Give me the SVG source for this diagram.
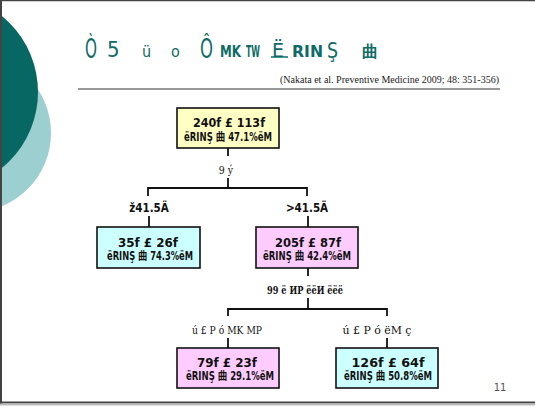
<svg xmlns="http://www.w3.org/2000/svg" width="535" height="409" viewBox="0 0 535 409">
<style>
.title{font-family:"DejaVu Sans Condensed","DejaVu Sans",sans-serif;fill:#0e6b66}
.box{stroke:#111;stroke-width:1.6}
.yel{fill:#ffffc4}
.cyan{fill:#ccffff}
.pink{fill:#ffccff}
.bt{font-family:"DejaVu Sans Condensed","DejaVu Sans","Noto Sans CJK JP",sans-serif;font-weight:bold;font-size:11.5px;fill:#111;text-anchor:middle}
.lbl{font-family:"DejaVu Serif Condensed","DejaVu Serif",serif;font-size:10.5px;fill:#111;text-anchor:middle}
.lblb{font-family:"DejaVu Sans Condensed","DejaVu Sans",sans-serif;font-weight:bold;font-size:11.5px;fill:#111;text-anchor:middle}
.conn{stroke:#111;stroke-width:1.8;fill:none}
</style>
<rect width="535" height="409" fill="#fff"/>
<g id="decor">
<circle cx="-28" cy="133" r="79" fill="#9ccfcf"/>
<circle cx="-60" cy="92" r="98" fill="#076762"/>
</g>
<g id="frame">
<line x1="0" y1="0.5" x2="535" y2="0.5" stroke="#444" stroke-width="1.5"/>
<line x1="1" y1="0" x2="1" y2="404" stroke="#444" stroke-width="2"/>
<line x1="0" y1="402.5" x2="535" y2="402.5" stroke="#444" stroke-width="2"/>
<line x1="0" y1="404.5" x2="535" y2="404.5" stroke="#bbb" stroke-width="2"/>
</g>
<g id="title">
<text class="title" font-size="26" x="85" y="58" textLength="12" lengthAdjust="spacingAndGlyphs">Ò</text>
<text class="title" font-size="22" x="107" y="57">5</text>
<text class="title" font-size="16" x="142" y="57" font-family="DejaVu Serif">ü</text>
<text class="title" font-size="16" x="171" y="57" font-family="DejaVu Serif">o</text>
<text class="title" font-size="26" x="200" y="58" textLength="13" lengthAdjust="spacingAndGlyphs">Ô</text>
<text class="title" font-size="15" x="220" y="57" font-weight="bold" textLength="21" lengthAdjust="spacingAndGlyphs">MK</text>
<text class="title" font-size="15" x="246" y="57" font-weight="bold" textLength="14" lengthAdjust="spacingAndGlyphs">TW</text>
<text class="title" font-size="19" x="272" y="57" textLength="12" lengthAdjust="spacingAndGlyphs">Ë</text>
<line x1="271" y1="57" x2="288" y2="57" stroke="#0e6b66" stroke-width="1.5"/>
<text class="title" font-size="15" x="292" y="57" font-weight="bold" textLength="31" lengthAdjust="spacingAndGlyphs">RIN</text>
<text class="title" font-size="22" x="327" y="58" textLength="11" lengthAdjust="spacingAndGlyphs">Ş</text>
<text class="title" font-size="16" x="362" y="57" font-weight="bold" textLength="16" lengthAdjust="spacingAndGlyphs" font-family="Noto Sans CJK JP">曲</text>
<text x="280" y="83" font-family="Liberation Serif,serif" font-size="11" fill="#222" textLength="219" lengthAdjust="spacingAndGlyphs">(Nakata et al. Preventive Medicine 2009; 48: 351-356)</text>
<line x1="78" y1="89" x2="500" y2="89" stroke="#333" stroke-width="1"/>
</g>
<g id="connectors">
<path class="conn" d="M228 148V156M228 178V188M148 196V188H307V196"/>
<path class="conn" d="M149 216V227M308 216V227"/>
<path class="conn" d="M308 268V276M308 298V309M228 316V309H387V316"/>
<path class="conn" d="M228 338V348M387 338V348"/>
</g>
<g id="labels">
<text class="lbl" x="226" y="174">9 ý</text>
<text class="lblb" x="149" y="212">ž41.5Ä</text>
<text class="lblb" x="307" y="212">&gt;41.5Ä</text>
<text class="lbl" x="305" y="294" font-weight="bold" textLength="76" lengthAdjust="spacingAndGlyphs">99 ë ИP ëëИ ëëë</text>
<text class="lbl" x="227" y="334" textLength="70" lengthAdjust="spacingAndGlyphs">ú £ P ó MK MP</text>
<text class="lbl" x="377" y="334" textLength="69" lengthAdjust="spacingAndGlyphs">ú £ P ó ëM ç</text>
</g>
<g id="n_all">
<rect class="box yel" x="177" y="108" width="102" height="40"/>
<text class="bt" x="229" y="127" textLength="72" lengthAdjust="spacingAndGlyphs">240f £ 113f</text>
<text class="bt" x="228" y="141" textLength="88" lengthAdjust="spacingAndGlyphs">ëRINŞ 曲 47.1%ëM</text>
</g>
<g id="n_low">
<rect class="box cyan" x="97" y="227" width="103" height="41"/>
<text class="bt" x="148" y="247" textLength="60" lengthAdjust="spacingAndGlyphs">35f £ 26f</text>
<text class="bt" x="150" y="260" textLength="86" lengthAdjust="spacingAndGlyphs">ëRINŞ 曲 74.3%ëM</text>
</g>
<g id="n_high">
<rect class="box pink" x="256" y="227" width="102" height="41"/>
<text class="bt" x="308" y="247" textLength="66" lengthAdjust="spacingAndGlyphs">205f £ 87f</text>
<text class="bt" x="307" y="260" textLength="88" lengthAdjust="spacingAndGlyphs">ëRINŞ 曲 42.4%ëM</text>
</g>
<g id="n_bl">
<rect class="box pink" x="177" y="348" width="102" height="40"/>
<text class="bt" x="227" y="367" textLength="60" lengthAdjust="spacingAndGlyphs">79f £ 23f</text>
<text class="bt" x="230" y="380" textLength="88" lengthAdjust="spacingAndGlyphs">ëRINŞ 曲 29.1%ëM</text>
</g>
<g id="n_br">
<rect class="box cyan" x="336" y="348" width="102" height="40"/>
<text class="bt" x="388" y="367" textLength="73" lengthAdjust="spacingAndGlyphs">126f £ 64f</text>
<text class="bt" x="388" y="380" textLength="88" lengthAdjust="spacingAndGlyphs">ëRINŞ 曲 50.8%ëM</text>
</g>
<text x="500" y="391" font-family="DejaVu Sans,sans-serif" font-size="10" fill="#555" text-anchor="middle">11</text>
</svg>
